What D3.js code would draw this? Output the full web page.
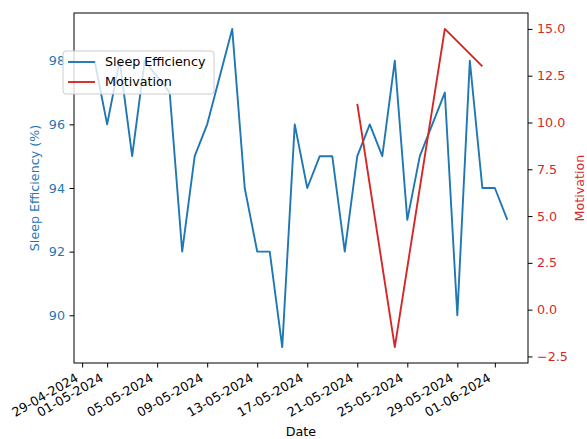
<!DOCTYPE html>
<html>
<head>
<meta charset="utf-8">
<script src="https://cdn.jsdelivr.net/npm/d3@7"></script>
<style>
  body { margin: 0; background: #fff; }
  text { font-family: "DejaVu Sans", sans-serif; }
</style>
</head>
<body>
<div id="svg-container"></div>
<script>
// the data
var dates = [
  "30-04-2024", "01-05-2024", "02-05-2024", "03-05-2024", "04-05-2024",
  "06-05-2024", "07-05-2024", "08-05-2024", "09-05-2024", "11-05-2024",
  "12-05-2024", "13-05-2024", "14-05-2024", "15-05-2024", "16-05-2024",
  "17-05-2024", "18-05-2024", "19-05-2024", "20-05-2024", "21-05-2024",
  "22-05-2024", "23-05-2024", "24-05-2024", "25-05-2024", "26-05-2024",
  "28-05-2024", "29-05-2024", "30-05-2024", "31-05-2024", "01-06-2024",
  "02-06-2024"
];
var sleepEfficiency = [
  98, 96, 98, 95, 98,
  97, 92, 95, 96, 99,
  94, 92, 92, 89, 96,
  94, 95, 95, 92, 95,
  96, 95, 98, 93, 95,
  97, 90, 98, 94, 94,
  93
];
var motivationDates = ["21-05-2024", "24-05-2024", "28-05-2024", "31-05-2024"];
var motivation = [11, -2, 15, 13];

var xTickLabels = [
  "29-04-2024", "01-05-2024", "05-05-2024", "09-05-2024", "13-05-2024",
  "17-05-2024", "21-05-2024", "25-05-2024", "29-05-2024", "01-06-2024"
];
var leftTicks = [90, 92, 94, 96, 98];
var rightTicks = [-2.5, 0, 2.5, 5, 7.5, 10, 12.5, 15];

var blue = "#1f77b4";
var red = "#d62728";
var fs = 12.7;

var parse = d3.timeParse("%d-%m-%Y");
var sleep = dates.map((d, i) => ({ date: parse(d), value: sleepEfficiency[i] }));
var motiv = motivationDates.map((d, i) => ({ date: parse(d), value: motivation[i] }));

// the container
var svg = d3
  .select("#svg-container")
  .append("svg")
  .attr("width", 587)
  .attr("height", 439);

var plotL = 74, plotR = 528, plotT = 13, plotB = 363;

// matplotlib style 5% margins
function pad(ext) {
  var m = (ext[1] - ext[0]) * 0.05;
  return [ext[0] - m, ext[1] + m];
}

var allDates = sleep.concat(motiv).map((d) => +d.date);
var xd = pad(d3.extent(allDates));
var x = d3.scaleTime().domain([new Date(xd[0]), new Date(xd[1])]).range([plotL, plotR]);
var y1 = d3.scaleLinear().domain(pad(d3.extent(sleepEfficiency))).range([plotB, plotT]);
var y2 = d3.scaleLinear().domain(pad(d3.extent(motivation))).range([plotB, plotT]);

// the lines
svg.append("clipPath").attr("id", "clip")
  .append("rect")
  .attr("x", plotL).attr("y", plotT)
  .attr("width", plotR - plotL).attr("height", plotB - plotT);

svg.append("path")
  .datum(sleep)
  .attr("clip-path", "url(#clip)")
  .attr("fill", "none")
  .attr("stroke", blue)
  .attr("stroke-width", 1.9)
  .attr("stroke-linejoin", "round")
  .attr("d", d3.line().x((d) => x(d.date)).y((d) => y1(d.value)));

svg.append("path")
  .datum(motiv)
  .attr("clip-path", "url(#clip)")
  .attr("fill", "none")
  .attr("stroke", red)
  .attr("stroke-width", 1.9)
  .attr("stroke-linejoin", "round")
  .attr("d", d3.line().x((d) => x(d.date)).y((d) => y2(d.value)));

// the axes
function styleAxis(g, color) {
  g.select(".domain").remove();
  g.selectAll(".tick line").attr("stroke", "#000").attr("stroke-width", 1);
  g.selectAll(".tick text")
    .attr("fill", color)
    .style("font-family", "'DejaVu Sans', sans-serif")
    .style("font-size", fs + "px");
}

var xAxis = svg.append("g")
  .attr("transform", "translate(0," + plotB + ")")
  .call(
    d3.axisBottom(x)
      .tickValues(xTickLabels.map(parse))
      .tickFormat(d3.timeFormat("%d-%m-%Y"))
      .tickSize(4.5)
      .tickSizeOuter(0)
  );
styleAxis(xAxis, "#000");
xAxis.selectAll(".tick text")
  .attr("x", 0)
  .attr("y", 0)
  .attr("dy", null)
  .attr("text-anchor", "end")
  .attr("transform", "translate(-3.5," + (9 + 8.4) + ") rotate(-30)");

var yAxisL = svg.append("g")
  .attr("transform", "translate(" + plotL + ",0)")
  .call(d3.axisLeft(y1).tickValues(leftTicks).tickFormat(d3.format("d")).tickSize(4.5).tickPadding(4.5));
styleAxis(yAxisL, blue);

var yAxisR = svg.append("g")
  .attr("transform", "translate(" + plotR + ",0)")
  .call(d3.axisRight(y2).tickValues(rightTicks).tickFormat(d3.format(".1f")).tickSize(4.5).tickPadding(4.5));
styleAxis(yAxisR, red);

// the frame
svg.append("rect")
  .attr("x", plotL).attr("y", plotT)
  .attr("width", plotR - plotL).attr("height", plotB - plotT)
  .attr("fill", "none")
  .attr("stroke", "#000")
  .attr("stroke-width", 1);

// axis labels
svg.append("text")
  .attr("x", (plotL + plotR) / 2)
  .attr("y", 436)
  .attr("text-anchor", "middle")
  .style("font-size", fs + "px")
  .text("Date");

svg.append("text")
  .attr("transform", "translate(39," + (plotT + plotB) / 2 + ") rotate(-90)")
  .attr("text-anchor", "middle")
  .attr("fill", blue)
  .style("font-size", fs + "px")
  .text("Sleep Efficiency (%)");

svg.append("text")
  .attr("transform", "translate(574," + (plotT + plotB) / 2 + ") rotate(-90)")
  .attr("text-anchor", "middle")
  .attr("dy", "0.75em")
  .attr("fill", red)
  .style("font-size", fs + "px")
  .text("Motivation");

// the legend
var legend = svg.append("g").attr("transform", "translate(63,51)");
legend.append("rect")
  .attr("width", 151)
  .attr("height", 43)
  .attr("rx", 3)
  .attr("fill", "#fff")
  .attr("fill-opacity", 0.8)
  .attr("stroke", "#ccc")
  .attr("stroke-width", 1);

var items = [
  { name: "Sleep Efficiency", color: blue },
  { name: "Motivation", color: red }
];
var li = legend.selectAll("g.item")
  .data(items)
  .enter()
  .append("g")
  .attr("class", "item")
  .attr("transform", (d, i) => "translate(0," + (11 + i * 20) + ")");
li.append("line")
  .attr("x1", 5).attr("x2", 32)
  .attr("stroke", (d) => d.color)
  .attr("stroke-width", 1.9);
li.append("text")
  .attr("x", 42)
  .attr("dy", "0.35em")
  .style("font-size", fs + "px")
  .attr("fill", "#000")
  .text((d) => d.name);
</script>
</body>
</html>
